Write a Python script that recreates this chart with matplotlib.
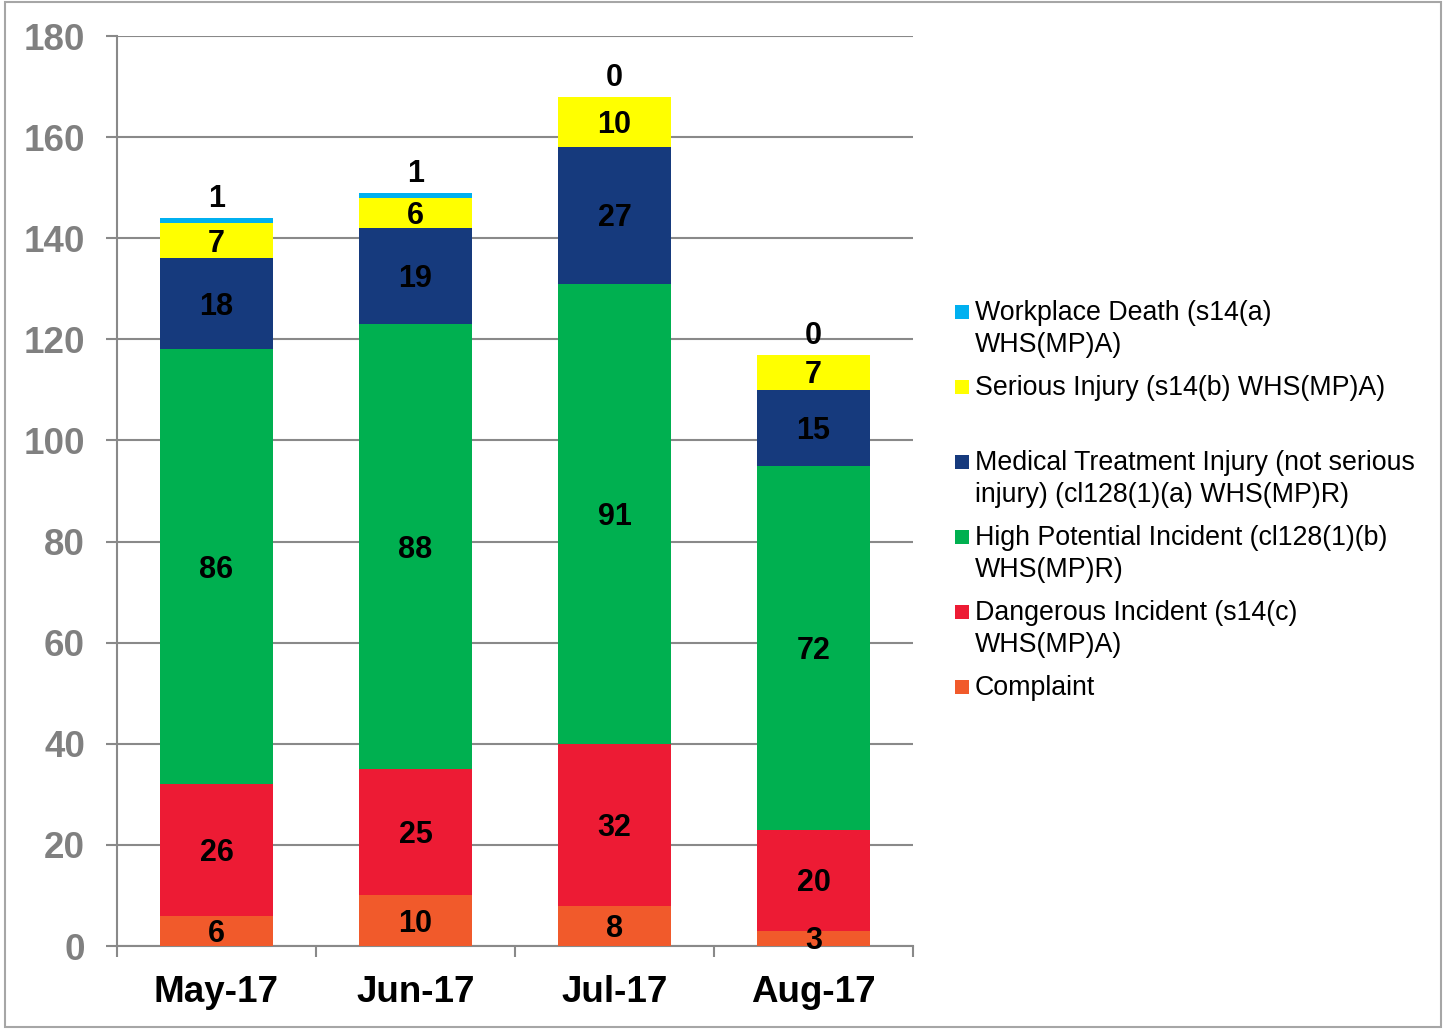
import matplotlib
matplotlib.use("Agg")
import matplotlib.pyplot as plt
from matplotlib.patches import Rectangle
import numpy as np

plt.rcParams['font.family'] = ['Liberation Sans', 'DejaVu Sans']

months = ["May-17", "Jun-17", "Jul-17", "Aug-17"]
complaint = [6, 10, 8, 3]
dangerous = [26, 25, 32, 20]
high_potential = [86, 88, 91, 72]
medical = [18, 19, 27, 15]
serious = [7, 6, 10, 7]
death = [1, 1, 0, 0]

series_names = [
    "Complaint",
    "Dangerous Incident (s14(c)\nWHS(MP)A)",
    "High Potential Incident (cl128(1)(b)\nWHS(MP)R)",
    "Medical Treatment Injury (not serious\ninjury) (cl128(1)(a) WHS(MP)R)",
    "Serious Injury (s14(b) WHS(MP)A)",
    "Workplace Death (s14(a)\nWHS(MP)A)",
]
series_values = [complaint, dangerous, high_potential, medical, serious, death]
colors = ["#F15A2B", "#ED1B34", "#00B050", "#163A7D", "#FFFF00", "#00B0F0"]
yticks = [0, 20, 40, 60, 80, 100, 120, 140, 160, 180]

W, H = 1447, 1034
fig = plt.figure(figsize=(W / 100, H / 100), dpi=100)
ax = fig.add_axes([117 / W, 1 - 946 / H, (913 - 117) / W, (946 - 36) / H])

x = np.arange(len(months))
bottom = np.zeros(len(months))
bw = 0.568
for name, vals, col in zip(series_names, series_values, colors):
    vals = np.array(vals, dtype=float)
    ax.bar(x, vals, bw, bottom=bottom, color=col, zorder=3, linewidth=0)
    for xi, v, b in zip(x, vals, bottom):
        if name.startswith("Workplace"):
            ax.annotate(f"{int(v)}", (xi, b + v), xytext=(0, 19), textcoords="offset pixels",
                        ha="center", va="center", fontsize=22, fontweight="bold", color="black", zorder=5)
        else:
            ax.annotate(f"{int(v)}", (xi, b + v / 2), xytext=(0, -3), textcoords="offset pixels",
                        ha="center", va="center", fontsize=22, fontweight="bold", color="black", zorder=5)
    bottom = bottom + vals

ax.set_xlim(-0.5, len(months) - 0.5)
ax.set_ylim(0, 180)
ax.set_yticks(yticks)
ax.set_yticklabels([str(t) for t in yticks], fontsize=26.5, fontweight="bold", color="#808080")
ax.tick_params(axis="y", length=8, width=1.5, color="#898989", pad=15)
ax.set_xticks(x)
ax.set_xticklabels(months, fontsize=26.5, fontweight="bold", color="black")
ax.tick_params(axis="x", which="major", length=0, pad=21)
ax.set_xticks(np.arange(-0.5, len(months)), minor=True)
ax.tick_params(axis="x", which="minor", length=8, width=1.5, color="#898989", direction="out")
ax.grid(axis="y", color="#898989", linewidth=1.5, zorder=0)
for s in ["top", "right"]:
    ax.spines[s].set_visible(False)
for s in ["left", "bottom"]:
    ax.spines[s].set_color("#898989")
    ax.spines[s].set_linewidth(1.5)

# Legend (manual, fixed slot spacing)
legend_order = [5, 4, 3, 2, 1, 0]
for i, idx in enumerate(legend_order):
    cy = 312 + 75 * i
    fig.patches.append(Rectangle((955 / W, 1 - (cy + 7) / H), 14 / W, 14 / H,
                                 transform=fig.transFigure, facecolor=colors[idx],
                                 edgecolor="none"))
    fig.text(975 / W, 1 - (cy - 12) / H, series_names[idx], ha="left", va="top",
             fontsize=19.3, color="black", linespacing=1.3)

# Outer border
fig.patches.append(Rectangle((5 / W, 1 - 1027 / H), (1441 - 5) / W, (1027 - 2) / H,
                             transform=fig.transFigure, facecolor="none",
                             edgecolor="#A6A6A6", linewidth=1.5))

fig.savefig("out.png", dpi=100)
